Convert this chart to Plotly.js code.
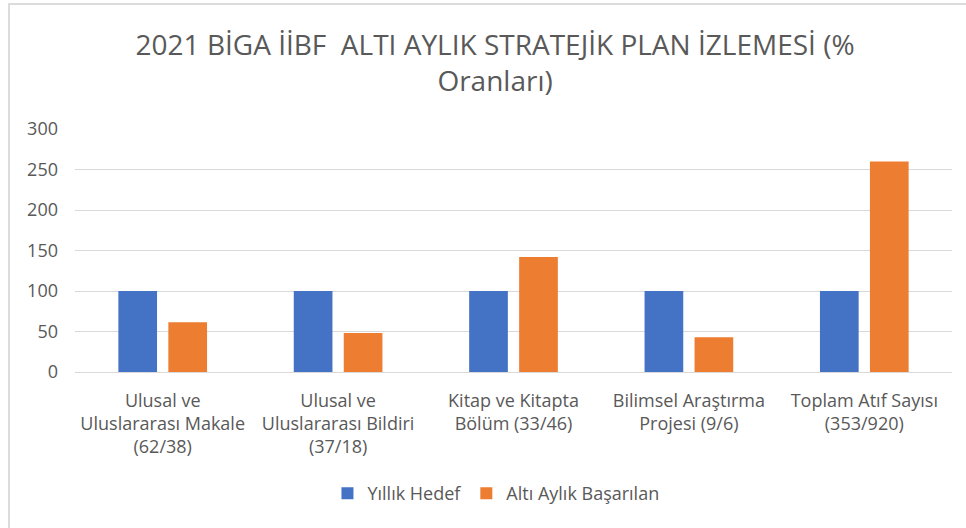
<!DOCTYPE html>
<html>
<head>
<meta charset="utf-8">
<script src="https://cdn.plot.ly/plotly-3.0.1.min.js"></script>
<style>
  html, body { margin: 0; padding: 0; background: #ffffff; }
  #wrap { position: relative; width: 966px; height: 528px; }
  #chart { position: absolute; left: 0; top: 0; width: 966px; height: 528px; }
  #frame { position: absolute; left: 8px; top: 3px; width: 958px; height: 523px;
           border-left: 2px solid #dcdcdc; border-top: 2px solid #dcdcdc; border-bottom: 2px solid #e6e6e6;
           pointer-events: none; }
</style>
</head>
<body>
<div id="wrap">
  <div id="chart"></div>
  <div id="frame"></div>
</div>
<script>
const categories = [
  "Ulusal ve<br>Uluslararası Makale<br>(62/38)",
  "Ulusal ve<br>Uluslararası Bildiri<br>(37/18)",
  "Kitap ve Kitapta<br>Bölüm (33/46)",
  "Bilimsel Araştırma<br>Projesi (9/6)",
  "Toplam Atıf Sayısı<br>(353/920)"
];
const seriesNames = ["Yıllık Hedef", "Altı Aylık Başarılan"];
const yillikHedef = [100, 100, 100, 100, 100];
const altiAylikBasarilan = [61.3, 48, 142, 43, 260];
const yTicks = [0, 50, 100, 150, 200, 250, 300];

const FONT = "'Open Sans', 'DejaVu Sans', sans-serif";
const GREY = "#595959";

const traces = [
  { type: "bar", name: seriesNames[0], x: categories, y: yillikHedef,
    marker: { color: "#4472C4" }, hoverinfo: "y" },
  { type: "bar", name: seriesNames[1], x: categories, y: altiAylikBasarilan,
    marker: { color: "#ED7D31" }, hoverinfo: "y" }
];

const layout = {
  width: 966, height: 528,
  paper_bgcolor: "rgba(0,0,0,0)", plot_bgcolor: "rgba(0,0,0,0)",
  margin: { l: 75, r: 14, t: 129, b: 156 },
  font: { family: FONT, color: GREY, size: 18 },
  title: {
    text: "2021 BİGA İİBF  ALTI AYLIK STRATEJİK PLAN İZLEMESİ (%<br>Oranları)",
    font: { family: FONT, size: 28, color: GREY },
    x: 0.5125, xref: "container", xanchor: "center",
    y: 1 - 55 / 528, yref: "container", yanchor: "top"
  },
  barmode: "group",
  bargap: 0.43,
  bargroupgap: 0.226,
  xaxis: {
    type: "category",
    showgrid: false,
    showline: true, linecolor: "#d9d9d9", linewidth: 1,
    ticks: "", tickfont: { family: FONT, size: 18, color: GREY },
    ticklabelstandoff: 12,
    fixedrange: true
  },
  yaxis: {
    range: [0, 300], tickvals: yTicks, ticktext: yTicks.map(String),
    showgrid: true, gridcolor: "#d9d9d9", gridwidth: 1,
    zeroline: true, zerolinecolor: "#d9d9d9", zerolinewidth: 1,
    showline: false, ticks: "",
    tickfont: { family: FONT, size: 18, color: GREY },
    ticklabelstandoff: 16,
    fixedrange: true
  },
  showlegend: true,
  legend: {
    orientation: "h", x: 0.48, xanchor: "center", y: -0.5, yanchor: "middle",
    font: { family: FONT, size: 18, color: GREY },
    itemwidth: 30, traceorder: "normal"
  }
};

Plotly.newPlot("chart", traces, layout, { displayModeBar: false, staticPlot: true });
</script>
</body>
</html>
